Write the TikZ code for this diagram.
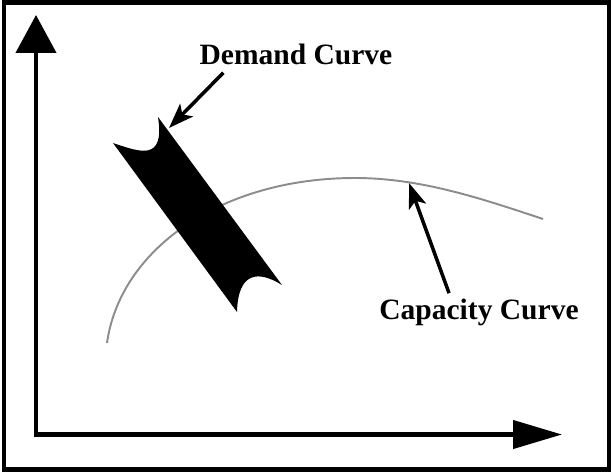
\documentclass[tikz,border=0pt]{standalone}
\usepackage{fontspec}
\setmainfont{Liberation Serif}
\usepackage{tikz}
\usetikzlibrary{arrows.meta,calc}
\tikzstyle{tsLabel} = [
    text=black,
    font=\bfseries\fontsize{16.8}{18}\selectfont,
    inner sep=0pt
]
\tikzstyle{tsAxis} = [
    draw=black,
    line width=2.4pt
]
\tikzstyle{tsPointer} = [
    draw=black,
    line width=2pt,
    -{Stealth[length=5mm,width=3.6mm,inset=1.2mm]}
]
\tikzstyle{tsCapacity} = [
    draw=black!45,
    line width=1.1pt
]
\begin{document}
\begin{tikzpicture}[x=0.02cm, y=-0.02cm]

        \useasboundingbox (0,0) rectangle (614,474);
        \draw[line width=2.3pt] (4,2.5) rectangle (609,469.5);

        % axes
        \coordinate (origin) at (36,434.5);
        \coordinate (ytip) at (36,15);
        \coordinate (xtip) at (562,434.5);
        \draw[tsAxis, -{Triangle[length=0.76cm,width=0.8cm]}] ($(origin)+(0,2.5)$) -- (ytip);
        \draw[tsAxis, -{Triangle[length=0.98cm,width=0.56cm]}] (origin) -- (xtip);

        % capacity curve
        \draw[tsCapacity] (107,343) .. controls (120,250) and (220,178) .. (355,178)
            .. controls (420,178) and (480,198) .. (543,219);

        % demand band
        \fill[black] (113,143) .. controls (140,152) and (165,162) .. (158,117)
            -- (282,285) .. controls (258,270) and (238,272) .. (237,312) -- cycle;
        \coordinate (bandtip) at (169,128);
        \coordinate (curvetip) at (409,183);

        % labels
        \node[tsLabel, anchor=base] (demand) at (296,64) {Demand Curve};
        \node[tsLabel, anchor=base] (capacity) at (479,319) {Capacity Curve};

        \draw[tsPointer] ($(demand.south west)+(24,8)$) -- (bandtip);
        \draw[tsPointer] ($(capacity.north west)+(70,-5)$) -- (curvetip);

\end{tikzpicture}
\end{document}
